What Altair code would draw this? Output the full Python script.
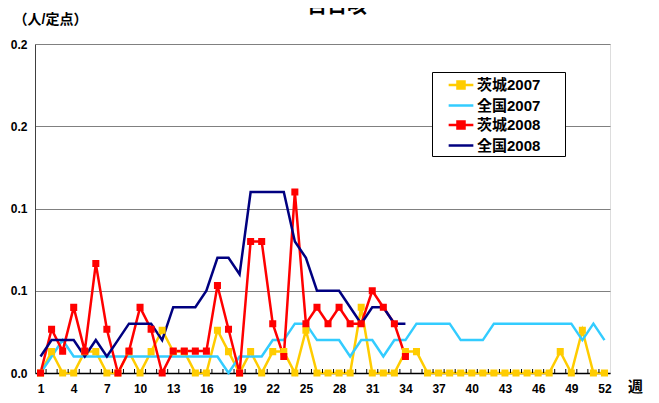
import altair as alt
import pandas as pd

chart_title = "百日咳"
weeks = list(range(1, 53))
series_names = ["茨城2007", "全国2007", "茨城2008", "全国2008"]
series_colors = ["#FFCC00", "#33CCFF", "#FF0000", "#000080"]

ibaraki_2007 = [0, 0.013, 0, 0, 0.013, 0.013, 0, 0, 0.013, 0,
                0.013, 0.026, 0.013, 0.013, 0, 0, 0.026, 0.013, 0, 0.013,
                0, 0.013, 0.013, 0, 0.026, 0, 0, 0, 0, 0.04,
                0, 0, 0, 0.013, 0.013, 0, 0, 0, 0, 0,
                0, 0, 0, 0, 0, 0, 0, 0.013, 0, 0.026,
                0, 0]
zenkoku_2007 = [0, 0.01, 0.02, 0.01, 0.01, 0.01, 0.01, 0.01, 0.01, 0.01,
                0.01, 0.01, 0.01, 0.01, 0.01, 0.01, 0.01, 0, 0.01, 0.01,
                0.01, 0.02, 0.02, 0.03, 0.03, 0.02, 0.02, 0.02, 0.01, 0.02,
                0.02, 0.01, 0.02, 0.02, 0.03, 0.03, 0.03, 0.03, 0.02, 0.02,
                0.02, 0.03, 0.03, 0.03, 0.03, 0.03, 0.03, 0.03, 0.03, 0.02,
                0.03, 0.02]
ibaraki_2008 = [0, 0.0266, 0.0133, 0.0399, 0.0133, 0.0665, 0.0266, 0, 0.0133, 0.0399,
                0.0266, 0, 0.0133, 0.0133, 0.0133, 0.0133, 0.0532, 0.0266, 0, 0.08,
                0.08, 0.03, 0.01, 0.11, 0.03, 0.04, 0.03, 0.04, 0.03, 0.03,
                0.05, 0.04, 0.03, 0.01]
zenkoku_2008 = [0.01, 0.02, 0.02, 0.02, 0.01, 0.02, 0.01, 0.02, 0.03, 0.03,
                0.03, 0.02, 0.04, 0.04, 0.04, 0.05, 0.07, 0.07, 0.06, 0.11,
                0.11, 0.11, 0.11, 0.08, 0.07, 0.05, 0.05, 0.05, 0.04, 0.03,
                0.04, 0.04, 0.03, 0.03]

y_ticks = [0, 0.05, 0.1, 0.15, 0.2]
x_label_weeks = weeks[::3]

rows = []
for name, vals in zip(series_names, [ibaraki_2007, zenkoku_2007, ibaraki_2008, zenkoku_2008]):
    for w, v in zip(weeks, vals):
        rows.append({"week": w, "value": v, "series": name})
df = pd.DataFrame(rows)
bounds = pd.DataFrame({"b": [w - 0.5 for w in weeks[1:]]})

W, H = 575, 329
NUM_FONT = "Liberation Sans"
CJK_FONT = "Liberation Sans, Noto Sans CJK JP"

SQ = "M-1.3,0H1.3M-0.37,-0.37H0.37V0.37H-0.37Z"
LN = "M-1.3,0H1.3"

legend_kw = dict(
    title="x", titleOrient="right", titlePadding=20, titleFontSize=4,
    titleColor="transparent",
    orient="none", legendX=397, legendY=28, padding=2,
    symbolOffset=16, labelOffset=5, rowPadding=0.5,
    strokeColor="black", fillColor="white", symbolSize=361,
    symbolStrokeWidth=2.5, labelFont=CJK_FONT, labelFontSize=15,
    labelFontWeight="bold", labelColor="black",
)

x_scale = alt.Scale(domain=[0.5, 52.5], nice=False, zero=False)
x_axis = alt.Axis(values=x_label_weeks, ticks=False, grid=False,
                  labelOverlap=False,
                  domainColor="black", domainWidth=1.5,
                  labelFont=NUM_FONT, labelFontSize=12, labelFontWeight="bold",
                  labelColor="black", labelPadding=10,
                  title="週", titleFont=CJK_FONT, titleFontSize=15,
                  titleFontWeight="bold", titleColor="black",
                  titleX=600, titleY=13, titleAlign="center",
                  titleBaseline="middle")
y_enc = alt.Y("value:Q", scale=alt.Scale(domain=[0, 0.2], nice=False),
              axis=alt.Axis(values=y_ticks, ticks=False, grid=True,
                            labelOverlap=False,
                            gridColor="#808080", gridWidth=1,
                            domainColor="#404040",
                            labelExpr="datum.value < 0.01 ? '0.0' : datum.value < 0.11 ? '0.1' : '0.2'",
                            labelFont=NUM_FONT, labelFontSize=12, labelFontWeight="bold",
                            labelColor="black", labelPadding=8,
                            title="（人/定点）", titleFont=CJK_FONT, titleFontSize=14,
                            titleFontWeight="bold", titleColor="black", titleAngle=0,
                            titleAlign="left", titleBaseline="middle",
                            titleX=-22, titleY=-25))

base = alt.Chart(df).encode(x=alt.X("week:Q", scale=x_scale, axis=x_axis), y=y_enc)

lines = base.mark_line(strokeWidth=2.5).encode(
    stroke=alt.Stroke("series:N", scale=alt.Scale(domain=series_names, range=series_colors),
                      legend=alt.Legend(**legend_kw)),
    order=alt.Order("week:Q"),
)

points = base.transform_filter(
    alt.FieldOneOfPredicate(field="series", oneOf=[series_names[0], series_names[2]])
).mark_point(filled=True, size=361, opacity=1).encode(
    fill=alt.Fill("series:N", scale=alt.Scale(domain=series_names,
                  range=[series_colors[0], "transparent", series_colors[2], "transparent"]),
                  legend=alt.Legend(**legend_kw)),
    shape=alt.Shape("series:N", scale=alt.Scale(domain=series_names, range=[SQ, LN, SQ, LN]),
                    legend=alt.Legend(**legend_kw)),
)

ticks = alt.Chart(bounds).mark_rule(color="black", strokeWidth=1).encode(
    x=alt.X("b:Q", scale=x_scale, axis=x_axis), y=alt.value(H - 4), y2=alt.value(H)
)

title_text = alt.Chart(pd.DataFrame({"t": [chart_title]})).mark_text(
    font=CJK_FONT, fontSize=20, fontWeight="bold", color="black",
    align="center", baseline="bottom"
).encode(text="t:N", x=alt.value(302), y=alt.value(-27))

chart = alt.layer(lines, points, ticks, title_text).properties(
    width=W, height=H,
    autosize=alt.AutoSizeParams(type="none"),
    padding={"left": 27, "top": 36, "right": 41, "bottom": 22},
).configure_view(stroke="#808080", strokeWidth=1).configure(
    background="white"
).configure_axis(labelOverlap=False)

chart.save("out.html", embed_options={"renderer": "svg", "actions": False})
